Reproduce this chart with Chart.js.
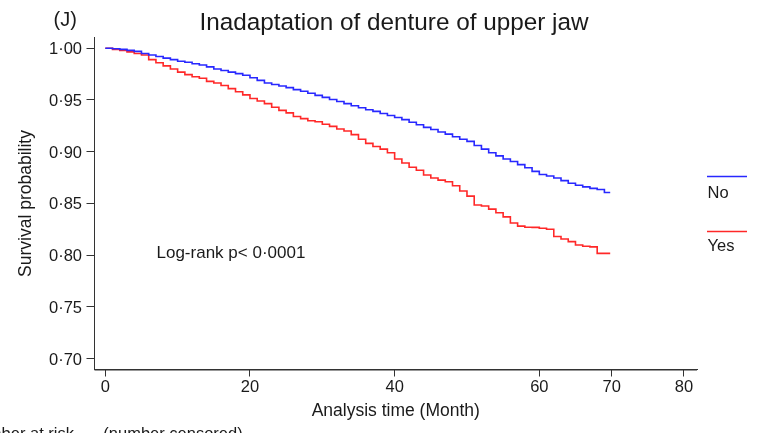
<!DOCTYPE html>
<html><head><meta charset="utf-8">
<script src="https://cdn.jsdelivr.net/npm/chart.js@4.4.1/dist/chart.umd.min.js"></script>
<style>html,body{margin:0;padding:0;background:#fff;overflow:hidden}</style>
</head><body>
<canvas id="c" width="761" height="433"></canvas>
<script>
// Follow-up times (months)
const times = [0,1,2,3,4,5,6,7,8,9,10,11,12,13,14,15,16,17,18,19,20,21,22,23,24,25,26,27,28,29,30,31,32,33,34,35,36,37,38,39,40,41,42,43,44,45,46,47,48,49,50,51,52,53,54,55,56,57,58,59,60,61,62,63,64,65,66,67,68,69,69.8];
// Kaplan-Meier survival, group "No"
const survNo = [1.000,0.9995,0.999,0.998,0.997,0.995,0.9935,0.992,0.9905,0.989,
  0.9875,0.9865,0.985,0.9838,0.982,0.980,0.9785,0.977,0.9755,0.974,
  0.9715,0.969,0.9665,0.965,0.9635,0.962,0.960,0.9585,0.9565,0.9545,
  0.9525,0.9505,0.9485,0.9465,0.9445,0.9425,0.9405,0.939,0.937,0.935,
  0.933,0.931,0.9285,0.926,0.9235,0.9215,0.919,0.917,0.9145,0.912,
  0.910,0.906,0.9025,0.899,0.896,0.893,0.8905,0.8875,0.8845,0.881,
  0.878,0.8765,0.8745,0.872,0.8695,0.8675,0.866,0.8645,0.8635,0.8605,0.8605];
// Kaplan-Meier survival, group "Yes"
const survYes = [1.000,0.999,0.998,0.9965,0.995,0.9935,0.989,0.986,0.983,0.980,
  0.977,0.9745,0.9725,0.971,0.968,0.9665,0.964,0.961,0.958,0.955,
  0.9515,0.949,0.9465,0.943,0.940,0.9375,0.934,0.932,0.930,0.929,
  0.9265,0.9245,0.922,0.920,0.9165,0.912,0.908,0.905,0.9025,0.899,
  0.893,0.889,0.885,0.882,0.8775,0.8745,0.8725,0.871,0.867,0.862,
  0.857,0.8485,0.8475,0.8445,0.841,0.837,0.831,0.828,0.827,0.8268,
  0.826,0.825,0.818,0.8155,0.813,0.8098,0.8085,0.808,0.8017,0.8017,0.8017];
const groupLabels = ['No','Yes'];
const xTicks = [0,20,40,60,70,80];
const yTicks = [0.70,0.75,0.80,0.85,0.90,0.95,1.00];
const titleText = 'Inadaptation of denture of upper jaw';
const panelLabel = '(J)';
const pValueText = 'Log-rank p< 0\u00b70001';

const FONT = '"Liberation Sans", Arial, Helvetica, sans-serif';
const TEXT = '#1a1a1a';
const AXIS = '#333';
const colors = ['rgb(40,40,255)','rgb(255,40,40)'];

Chart.defaults.font.family = FONT;
Chart.defaults.color = TEXT;

const annotate = {
  id: 'annotate',
  afterDraw(chart) {
    const ctx = chart.ctx;
    const a = chart.chartArea;
    ctx.save();
    // axis lines (left and bottom)
    ctx.strokeStyle = AXIS;
    ctx.lineWidth = 1;
    ctx.beginPath();
    ctx.moveTo(Math.round(a.left) - 0.5, a.top);
    ctx.lineTo(Math.round(a.left) - 0.5, Math.round(a.bottom));
    ctx.lineTo(a.right, Math.round(a.bottom));
    ctx.stroke();
    ctx.fillStyle = TEXT;
    ctx.textBaseline = 'alphabetic';
    // panel label
    ctx.font = '20px ' + FONT;
    ctx.textAlign = 'left';
    ctx.fillText(panelLabel, 53.5, 25.8);
    // title
    ctx.font = '24.3px ' + FONT;
    ctx.textAlign = 'center';
    ctx.fillText(titleText, 394, 29.5);
    // log-rank
    ctx.font = '17px ' + FONT;
    ctx.textAlign = 'left';
    ctx.fillText(pValueText, 156.5, 257.7);
    // legend
    const legY = [176.5, 231.5];
    const legTextY = [197.7, 250.7];
    chart.data.datasets.forEach((ds, i) => {
      ctx.strokeStyle = ds.borderColor;
      ctx.lineWidth = 1.6;
      ctx.beginPath();
      ctx.moveTo(707, legY[i]);
      ctx.lineTo(747, legY[i]);
      ctx.stroke();
      ctx.fillStyle = TEXT;
      ctx.font = '16.5px ' + FONT;
      ctx.textAlign = 'left';
      ctx.fillText(ds.label, 707.5, legTextY[i]);
    });
    // risk table header (cut by page edge)
    ctx.font = '16.5px ' + FONT;
    ctx.textAlign = 'right';
    ctx.fillText('Number at risk', 74, 439);
    ctx.textAlign = 'left';
    ctx.fillText('(number censored)', 103.3, 439);
    ctx.restore();
  }
};

new Chart(document.getElementById('c'), {
  type: 'line',
  data: {
    datasets: [survNo, survYes].map((s, i) => ({
      label: groupLabels[i],
      data: times.map((t, j) => ({x: t, y: s[j]})),
      borderColor: colors[i],
      backgroundColor: colors[i],
      borderWidth: 1.6,
      pointRadius: 0,
      stepped: true,
      fill: false
    }))
  },
  options: {
    responsive: false,
    animation: false,
    events: [],
    layout: {padding: {left: 0, right: 64, top: 37.5, bottom: 0}},
    plugins: {legend: {display: false}, title: {display: false}, tooltip: {enabled: false}},
    scales: {
      x: {
        type: 'linear', min: -1.493, max: 81.8,
        afterBuildTicks: a => { a.ticks = xTicks.map(v => ({value: v})); },
        afterFit: s => { s.height = 63.5; },
        grid: {drawOnChartArea: false, drawTicks: true, tickLength: 7, color: AXIS, lineWidth: 1},
        border: {display: true, color: AXIS, width: 1},
        ticks: {font: {size: 16.5}, color: TEXT, padding: 1.5, maxRotation: 0, autoSkip: false, callback: v => String(v)},
        title: {display: true, text: 'Analysis time (Month)', font: {size: 17.5}, color: TEXT, padding: {top: 0, bottom: 11.5}}
      },
      y: {
        type: 'linear', min: 0.68936, max: 1.01044,
        afterBuildTicks: a => { a.ticks = yTicks.map(v => ({value: v})); },
        afterFit: s => { s.width = 94.5; },
        grid: {drawOnChartArea: false, drawTicks: true, tickLength: 8, color: AXIS, lineWidth: 1},
        border: {display: true, color: AXIS, width: 1},
        ticks: {font: {size: 16.5}, color: TEXT, padding: 4.5, labelOffset: 1.5, autoSkip: false, callback: v => Number(v).toFixed(2).replace('.', '\u00b7')},
        title: {display: true, text: 'Survival probability', font: {size: 17.5}, color: TEXT, padding: {top: 16, bottom: 0}}
      }
    }
  },
  plugins: [annotate]
});
</script>
</body></html>
